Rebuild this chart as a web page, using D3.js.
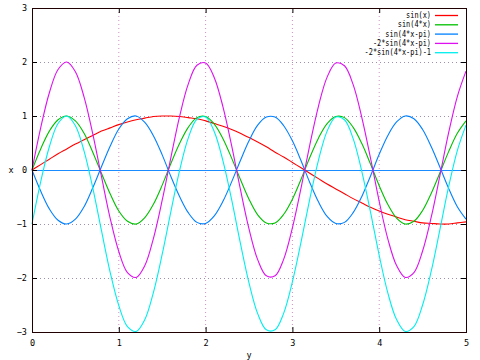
<!DOCTYPE html>
<html><head><meta charset="utf-8">
<script src="https://cdn.jsdelivr.net/npm/d3@7"></script>
<style>body{margin:0;background:#fff}svg{display:block}text{font-family:"DejaVu Sans Mono",monospace;font-size:8.5px;fill:#000}</style>
</head><body>
<script>
const xs = [0.0,0.1,0.2,0.3,0.4,0.5,0.6,0.7,0.8,0.9,1.0,1.1,1.2,1.3,1.4,1.5,1.6,1.7,1.8,1.9,2.0,2.1,2.2,2.3,2.4,2.5,2.6,2.7,2.8,2.9,3.0,3.1,3.2,3.3,3.4,3.5,3.6,3.7,3.8,3.9,4.0,4.1,4.2,4.3,4.4,4.5,4.6,4.7,4.8,4.9,5.0];
const sinX = [0.00,0.10,0.20,0.30,0.39,0.48,0.56,0.64,0.72,0.78,0.84,0.89,0.93,0.96,0.99,1.00,1.00,0.99,0.97,0.95,0.91,0.86,0.81,0.75,0.68,0.60,0.52,0.43,0.33,0.24,0.14,0.04,-0.06,-0.16,-0.26,-0.35,-0.44,-0.53,-0.61,-0.69,-0.76,-0.82,-0.87,-0.92,-0.95,-0.98,-0.99,-1.00,-1.00,-0.98,-0.96];
const sin4X = [0.00,0.39,0.72,0.93,1.00,0.91,0.68,0.33,-0.06,-0.44,-0.76,-0.95,-1.00,-0.88,-0.63,-0.28,0.12,0.49,0.79,0.97,0.99,0.85,0.58,0.22,-0.17,-0.54,-0.83,-0.98,-0.98,-0.82,-0.54,-0.17,0.23,0.59,0.86,0.99,0.97,0.79,0.49,0.11,-0.29,-0.64,-0.89,-1.00,-0.95,-0.75,-0.43,-0.05,0.34,0.68,0.91];
const sin4XmPi = [0.00,-0.39,-0.72,-0.93,-1.00,-0.91,-0.68,-0.33,0.06,0.44,0.76,0.95,1.00,0.88,0.63,0.28,-0.12,-0.49,-0.79,-0.97,-0.99,-0.85,-0.58,-0.22,0.17,0.54,0.83,0.98,0.98,0.82,0.54,0.17,-0.23,-0.59,-0.86,-0.99,-0.97,-0.79,-0.49,-0.11,0.29,0.64,0.89,1.00,0.95,0.75,0.43,0.05,-0.34,-0.68,-0.91];
const neg2Sin = [0.00,0.78,1.43,1.86,2.00,1.82,1.35,0.67,-0.12,-0.89,-1.51,-1.90,-1.99,-1.77,-1.26,-0.56,0.23,0.99,1.59,1.94,1.98,1.71,1.17,0.45,-0.35,-1.09,-1.66,-1.96,-1.96,-1.65,-1.07,-0.33,0.46,1.18,1.72,1.98,1.93,1.58,0.97,0.22,-0.58,-1.28,-1.77,-1.99,-1.90,-1.50,-0.87,-0.10,0.69,1.36,1.83];
const neg2SinM1 = [-1.00,-0.22,0.43,0.86,1.00,0.82,0.35,-0.33,-1.12,-1.89,-2.51,-2.90,-2.99,-2.77,-2.26,-1.56,-0.77,-0.01,0.59,0.94,0.98,0.71,0.17,-0.55,-1.35,-2.09,-2.66,-2.96,-2.96,-2.65,-2.07,-1.33,-0.54,0.18,0.72,0.98,0.93,0.58,-0.03,-0.78,-1.58,-2.28,-2.77,-2.99,-2.90,-2.50,-1.87,-1.10,-0.31,0.36,0.83];
const seriesNames = ["sin(x)","sin(4*x)","sin(4*x-pi)","-2*sin(4*x-pi)","-2*sin(4*x-pi)-1"];
const seriesColors = ["#ff0000","#00c000","#0080ff","#dd10f0","#00eeee"];
const seriesValues = [sinX, sin4X, sin4XmPi, neg2Sin, neg2SinM1];
const xTicks = [0,1,2,3,4,5];
const yTicks = [-3,-2,-1,0,1,2,3];

const W=480,H=360, L=32,R=466,T=8,B=332;
const svg=d3.select("body").append("svg").attr("width",W).attr("height",H);
const x=d3.scaleLinear().domain([0,5]).range([L,R]);
const y=d3.scaleLinear().domain([-3,3]).range([B,T]);

// grid
svg.append("g").selectAll("line").data(xTicks.slice(1,-1)).join("line")
  .attr("x1",d=>x(d)).attr("x2",d=>x(d)).attr("y1",T).attr("y2",B)
  .attr("stroke","#d090c0").attr("stroke-width",1).attr("stroke-dasharray","1,3");
svg.append("g").selectAll("line").data(yTicks.slice(1,-1)).join("line")
  .attr("x1",L).attr("x2",R).attr("y1",d=>y(d)+0.5).attr("y2",d=>y(d)+0.5)
  .attr("stroke","#a090b0").attr("stroke-width",1).attr("stroke-dasharray","1,3");

// zero axis
svg.append("line").attr("x1",L).attr("x2",R).attr("y1",y(0)+0.5).attr("y2",y(0)+0.5)
  .attr("stroke","#1a8cff").attr("stroke-width",1.2);

// axes with d3
const xAxis=d3.axisBottom(x).tickValues(xTicks).tickSize(0).tickPadding(8).tickFormat(d3.format("d"));
const gx=svg.append("g").attr("transform",`translate(0,${B})`).call(xAxis);
gx.select(".domain").remove();
gx.selectAll("text").style("font-size","8.5px").style("font-family","DejaVu Sans Mono");
const yAxis=d3.axisLeft(y).tickValues(yTicks).tickSize(0).tickPadding(5).tickFormat(d3.format("d"));
const gy=svg.append("g").attr("transform",`translate(${L},0)`).call(yAxis);
gy.select(".domain").remove();
gy.selectAll("text").style("font-size","8.5px").style("font-family","DejaVu Sans Mono").text(d=>d<0?"\u2212"+Math.abs(d):d);

// tick marks (inward, mirrored)
const tk=svg.append("g").attr("stroke","#000").attr("stroke-width",1);
xTicks.forEach(d=>{
  tk.append("line").attr("x1",x(d)+0.5).attr("x2",x(d)+0.5).attr("y1",B).attr("y2",B-5);
  tk.append("line").attr("x1",x(d)+0.5).attr("x2",x(d)+0.5).attr("y1",T).attr("y2",T+5);
});
yTicks.forEach(d=>{
  tk.append("line").attr("x1",L).attr("x2",L+5).attr("y1",y(d)+0.5).attr("y2",y(d)+0.5);
  tk.append("line").attr("x1",R).attr("x2",R-5).attr("y1",y(d)+0.5).attr("y2",y(d)+0.5);
});

// curves
const line=d3.line().x((d,i)=>x(xs[i])).y(d=>y(d)).curve(d3.curveCatmullRom.alpha(0.5));
seriesValues.forEach((vals,k)=>{
  svg.append("path").attr("d",line(vals)).attr("fill","none")
    .attr("stroke",seriesColors[k]).attr("stroke-width",1.1);
});

// border
svg.append("rect").attr("x",L+0.5).attr("y",T+0.5).attr("width",R-L).attr("height",B-T)
  .attr("fill","none").attr("stroke","#200000").attr("stroke-width",1);

// legend
const lg=svg.append("g");
seriesNames.forEach((n,k)=>{
  const yy=15+k*9.3;
  lg.append("text").attr("x",431).attr("y",yy+3).attr("text-anchor","end")
    .attr("textLength",n.length*4.15).attr("lengthAdjust","spacingAndGlyphs").text(n);
  lg.append("line").attr("x1",435).attr("x2",458).attr("y1",yy+0.5).attr("y2",yy+0.5)
    .attr("stroke",seriesColors[k]).attr("stroke-width",1.3);
});

// axis labels
svg.append("text").attr("x",11).attr("y",173).attr("text-anchor","middle").text("x");
svg.append("text").attr("x",249).attr("y",358).attr("text-anchor","middle").text("y");
</script>
</body></html>
